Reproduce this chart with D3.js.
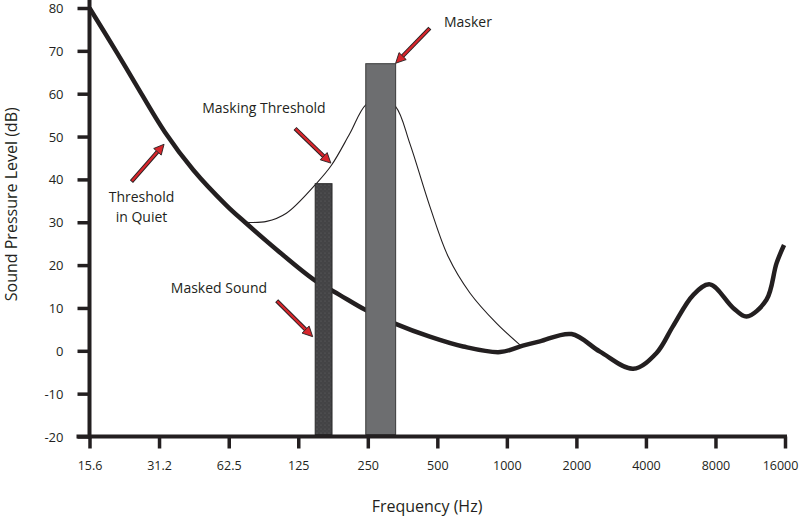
<!DOCTYPE html>
<html>
<head>
<meta charset="utf-8">
<script src="https://cdn.jsdelivr.net/npm/d3@7"></script>
<style>
  body { margin: 0; background: #fff; }
  svg { font-family: "Open Sans", sans-serif; }
</style>
</head>
<body>
<svg id="chart"></svg>
<script>
// Set dimensions
const width = 800, height = 518;

// Axis ticks
const freqTicks = [15.6, 31.2, 62.5, 125, 250, 500, 1000, 2000, 4000, 8000, 16000];
const freqTickLabels = ["15.6", "31.2", "62.5", "125", "250", "500", "1000", "2000", "4000", "8000", "16000"];
const levelTicks = [-20, -10, 0, 10, 20, 30, 40, 50, 60, 70, 80];

// Threshold in quiet
const quietFreq = [15.6, 20.5, 24.5, 33.1, 43.9, 61.2, 73.5, 100.8, 147, 189.4, 245, 330, 464, 647, 935, 1173, 1390, 1906, 2530, 3523, 4447, 5234, 6404, 7568, 9544, 10900, 13300, 14700, 15850];
const quietLevel = [80, 69.6, 62.6, 51, 42.2, 33.9, 30.0, 23.6, 16.5, 13.0, 9.5, 6.3, 3.3, 1, -0.3, 1.2, 2.2, 3.9, -0.2, -4.2, -0.5, 5.7, 13, 15.5, 10, 8, 11.9, 20.4, 24.7];

// Masking threshold
const maskFreq = [74, 91.2, 111, 150, 174, 209, 245, 285, 330, 380, 464, 557, 692, 903, 1139];
const maskLevel = [30.0, 30.2, 32.1, 39.1, 43.3, 50.7, 57.4, 59, 57, 48.4, 33.7, 22, 13.5, 6.4, 1.4];

// Bars: masked sound and masker
const barNames = ["Masked Sound", "Masker"];
const barLow = [148, 245];
const barHigh = [175, 330];
const barTop = [39, 67];

// Text notes
const noteText = ["Masker", "Masking Threshold", "Threshold", "in Quiet", "Masked Sound"];
const noteFreq = [678, 88.8, 26.2, 26.2, 56.7];
const noteLevel = [76.8, 56.7, 35.9, 31.3, 14.6];

// Arrows: [freq, level] tail -> tip
const arrowFrom = [[464, 75.3], [121, 51.9], [23.7, 39.5], [100.8, 11.7]];
const arrowTo = [[330, 67.1], [173, 43.8], [32.8, 48.2], [144.3, 3.3]];

const ink = "#231f20";
const red = "#d7262c";

const svg = d3.select("#chart")
    .attr("width", width)
    .attr("height", height);

// Scales
const x = d3.scaleLog().base(2)
    .domain([15.6, 16000])
    .range([89.5, 785]);

const y = d3.scaleLinear()
    .domain([-20, 80])
    .range([436.5, 8]);

// Stipple pattern for the masked sound bar
const defs = svg.append("defs");
const pat = defs.append("pattern")
    .attr("id", "stipple")
    .attr("width", 4).attr("height", 4)
    .attr("patternUnits", "userSpaceOnUse");
pat.append("rect").attr("width", 4).attr("height", 4).attr("fill", "#434345");
pat.append("circle").attr("cx", 1).attr("cy", 1).attr("r", 0.5).attr("fill", "#6a6a6c");
pat.append("circle").attr("cx", 3).attr("cy", 3).attr("r", 0.4).attr("fill", "#5a5a5c");

// Curves
const line = d3.line()
    .x(d => x(d[0]))
    .y(d => y(d[1]))
    .curve(d3.curveCatmullRom.alpha(0.5));

svg.append("path")
    .datum(quietFreq.map((f, i) => [f, quietLevel[i]]))
    .attr("d", line)
    .attr("fill", "none")
    .attr("stroke", ink)
    .attr("stroke-width", 4.5)
    .attr("stroke-linejoin", "round");

svg.append("path")
    .datum(maskFreq.map((f, i) => [f, maskLevel[i]]))
    .attr("d", line)
    .attr("fill", "none")
    .attr("stroke", ink)
    .attr("stroke-width", 1.1);

// Bars
svg.selectAll("rect.bar")
    .data(barNames)
    .enter()
    .append("rect")
    .attr("class", "bar")
    .attr("x", (d, i) => x(barLow[i]))
    .attr("width", (d, i) => x(barHigh[i]) - x(barLow[i]))
    .attr("y", (d, i) => y(barTop[i]))
    .attr("height", (d, i) => y(-20) - y(barTop[i]) - 2)
    .attr("fill", (d, i) => i === 0 ? "url(#stipple)" : "#6d6e70")
    .attr("stroke", (d, i) => i === 0 ? "#2a2a2a" : "#3a3a3a")
    .attr("stroke-width", 1);

// Axes
const yAxis = svg.append("g")
    .attr("transform", `translate(${x(15.6)},0)`)
    .call(d3.axisLeft(y).tickValues(levelTicks).tickSize(12).tickFormat(d => String(d)));
yAxis.select(".domain").remove();
yAxis.selectAll(".tick line").attr("stroke", ink).attr("stroke-width", 3.5);
yAxis.selectAll(".tick text")
    .attr("x", -26)
    .attr("dy", "0.35em")
    .attr("font-size", 13)
    .attr("font-family", "Open Sans, sans-serif")
    .attr("fill", ink);

const xAxis = svg.append("g")
    .attr("transform", `translate(0,${y(-20)})`)
    .call(d3.axisBottom(x).tickValues(freqTicks).tickSize(12)
        .tickFormat((d, i) => freqTickLabels[i]));
xAxis.select(".domain").remove();
xAxis.selectAll(".tick line").attr("stroke", ink).attr("stroke-width", 3.5);
xAxis.selectAll(".tick text")
    .attr("x", (d, i) => i === freqTicks.length - 1 ? -5 : 0)
    .attr("y", 33)
    .attr("dy", 0)
    .attr("font-size", 12.5)
    .attr("font-family", "Open Sans, sans-serif")
    .attr("fill", ink);

// Axis lines
svg.append("line")
    .attr("x1", x(15.6)).attr("x2", x(15.6))
    .attr("y1", 0).attr("y2", y(-20) + 2)
    .attr("stroke", ink).attr("stroke-width", 4);
svg.append("line")
    .attr("x1", x(15.6) - 13).attr("x2", x(16000) + 2)
    .attr("y1", y(-20)).attr("y2", y(-20))
    .attr("stroke", ink).attr("stroke-width", 4);

// Axis titles
svg.append("text")
    .attr("transform", `translate(17,${(y(-20) + y(80)) / 2 - 18}) rotate(-90)`)
    .attr("text-anchor", "middle")
    .attr("font-size", 16)
    .attr("fill", ink)
    .text("Sound Pressure Level (dB)");

svg.append("text")
    .attr("x", 427)
    .attr("y", 512)
    .attr("text-anchor", "middle")
    .attr("font-size", 16)
    .attr("fill", ink)
    .text("Frequency (Hz)");

// Arrows
arrowFrom.forEach((from, i) => {
    const x0 = x(from[0]), y0 = y(from[1]);
    const x1 = x(arrowTo[i][0]), y1 = y(arrowTo[i][1]);
    const len = Math.hypot(x1 - x0, y1 - y0);
    const ux = (x1 - x0) / len, uy = (y1 - y0) / len;
    const headLen = 10, headW = 5;
    const bx = x1 - ux * headLen, by = y1 - uy * headLen;
    svg.append("line")
        .attr("x1", x0).attr("y1", y0).attr("x2", bx).attr("y2", by)
        .attr("stroke", ink).attr("stroke-width", 4.2);
    svg.append("line")
        .attr("x1", x0 + ux * 0.8).attr("y1", y0 + uy * 0.8).attr("x2", bx).attr("y2", by)
        .attr("stroke", red).attr("stroke-width", 2.4);
    svg.append("polygon")
        .attr("points", [
            [x1, y1],
            [bx - uy * headW, by + ux * headW],
            [bx + uy * headW, by - ux * headW]
        ].map(p => p.join(",")).join(" "))
        .attr("fill", red)
        .attr("stroke", ink)
        .attr("stroke-width", 0.9)
        .attr("stroke-linejoin", "miter");
});

// Notes
svg.selectAll("text.note")
    .data(noteText)
    .enter()
    .append("text")
    .attr("class", "note")
    .attr("x", (d, i) => x(noteFreq[i]))
    .attr("y", (d, i) => y(noteLevel[i]))
    .attr("dy", "0.35em")
    .attr("text-anchor", "middle")
    .attr("font-size", 14)
    .attr("fill", ink)
    .text(d => d);
</script>
</body>
</html>
